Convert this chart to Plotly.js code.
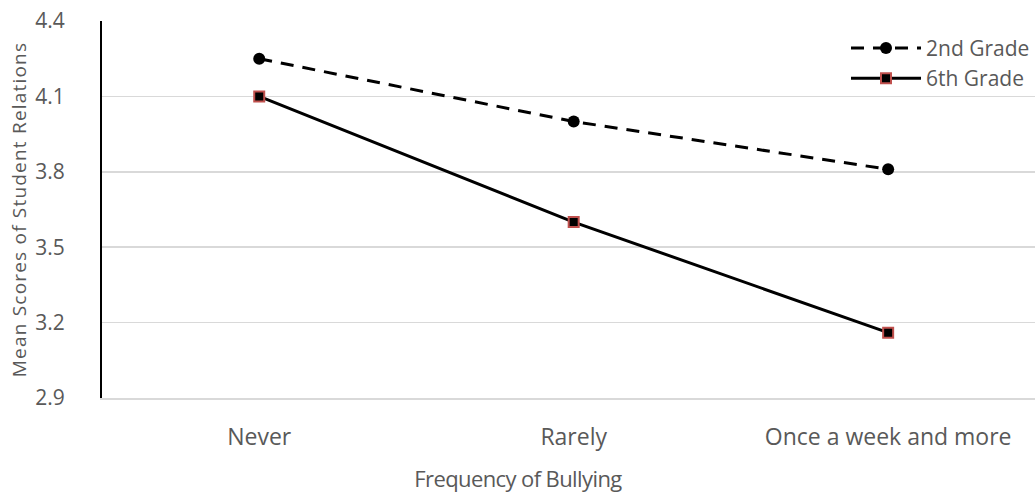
<!DOCTYPE html>
<html>
<head>
<meta charset="utf-8">
<script src="https://cdn.plot.ly/plotly-3.0.1.min.js"></script>
<style>
  html, body { margin: 0; padding: 0; background: #fff; }
  #chart { width: 1035px; height: 493px; }
  #chart .ytitle { letter-spacing: 1.2px; }
  #chart .annotation-text { letter-spacing: -0.6px; }
</style>
</head>
<body>
<div id="chart"></div>
<script>
// Frequency of bullying categories and mean student-relations scores per grade
const categories = ["Never", "Rarely", "Once a week and more"];
const grade2Scores = [4.25, 4.0, 3.81];
const grade6Scores = [4.1, 3.6, 3.16];
const yTicks = [2.9, 3.2, 3.5, 3.8, 4.1, 4.4];
const yTickLabels = ["2.9", "3.2", "3.5", "3.8", "4.1", "4.4"];

const FONT = "'Open Sans', 'Noto Sans', sans-serif";
const TEXT = "#595959";

const traces = [
  {
    x: categories,
    y: grade2Scores,
    name: "2nd Grade",
    type: "scatter",
    mode: "lines+markers",
    line: { color: "#000000", width: 3, dash: "13px,9px" },
    marker: { symbol: "circle", size: 12, color: "#000000" }
  },
  {
    x: categories,
    y: grade6Scores,
    name: "6th Grade",
    type: "scatter",
    mode: "lines+markers",
    line: { color: "#000000", width: 3 },
    marker: { symbol: "square", size: 10, color: "#000000",
              line: { color: "#c0504d", width: 2 } }
  }
];

const layout = {
  width: 1035,
  height: 493,
  margin: { l: 102, r: 0, t: 21, b: 95 },
  paper_bgcolor: "#ffffff",
  plot_bgcolor: "#ffffff",
  font: { family: FONT, color: TEXT, size: 18 },
  showlegend: true,
  legend: {
    x: 1, xanchor: "right", y: 0.982, yanchor: "top",
    bgcolor: "rgba(0,0,0,0)",
    itemwidth: 70,
    font: { family: FONT, size: 21, color: TEXT },
    tracegroupgap: 0
  },
  xaxis: {
    type: "category",
    range: [-0.5, 2.467],
    showgrid: false,
    zeroline: false,
    showline: true,
    linecolor: "#d9d9d9",
    linewidth: 2,
    ticks: "",
    tickfont: { family: FONT, size: 23, color: TEXT },
    ticklabelstandoff: 17
  },
  yaxis: {
    range: [2.9, 4.4],
    tickvals: yTicks,
    ticktext: yTickLabels,
    showgrid: true,
    gridcolor: "#d9d9d9",
    gridwidth: 1.5,
    zeroline: false,
    showline: true,
    linecolor: "#000000",
    linewidth: 2,
    ticks: "",
    ticklabelstandoff: 31,
    tickfont: { family: FONT, size: 21, color: TEXT },
    title: { text: "Mean Scores of Student Relations", standoff: 4,
             font: { family: FONT, size: 19, color: TEXT } }
  },
  annotations: [
    {
      text: "Frequency of Bullying",
      xref: "paper", yref: "paper",
      x: (518 - 102) / (1035 - 102), y: (493 - 95 - 478) / (493 - 95 - 21),
      xanchor: "center", yanchor: "middle",
      showarrow: false,
      font: { family: FONT, size: 22, color: TEXT }
    }
  ]
};

Plotly.newPlot("chart", traces, layout, { displayModeBar: false, staticPlot: true });
</script>
</body>
</html>
